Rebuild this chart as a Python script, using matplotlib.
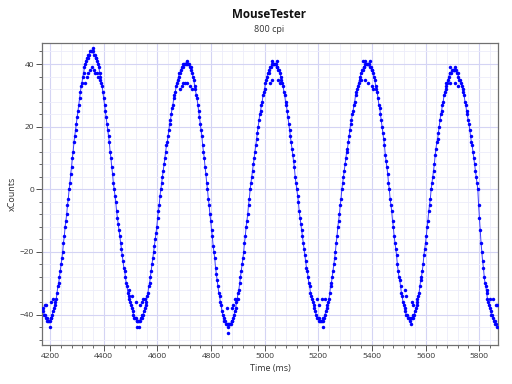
import numpy as np
import matplotlib
matplotlib.use('Agg')
import matplotlib.pyplot as plt
from matplotlib.ticker import MultipleLocator

plt.rcParams['font.family'] = ['Open Sans', 'DejaVu Sans']

# report timing (ms) - one report every 3 ms
t_start = 4172
t_step = 3

# xCounts per report
x_counts = [
    -38, -39, -40, -40, -41, -41, -42, -42,
    -42, -42, -41, -41, -40, -39, -38, -37, -36, -35, -33, -31, -30, -28, -26, -24, -22, -20,
    -17, -15, -12, -10, -8, -5, -3, 0,
    2, 5, 7, 10, 12, 15, 17, 19, 21, 23, 25, 27, 29, 31, 33, 34, 36, 37, 39, 40, 41, 42, 42, 43,
    43, 44, 44, 44,
    44, 44, 43, 43, 42, 42, 41, 40, 39, 37, 36, 34, 33, 31, 29, 27, 25, 23, 21, 19, 17, 15, 12, 10,
    7, 5, 2, 0,
    -2, -4, -7, -9, -11, -13, -15, -17, -19, -21, -23, -25, -26, -28, -30, -31, -33, -34, -35, -36,
    -37, -38, -39, -40, -41, -41, -41, -42, -42, -42,
    -42, -42, -41, -41, -40, -40, -39, -38, -37, -36, -34, -33, -31, -30, -28, -26, -24, -22, -20, -18,
    -16, -14, -12, -9, -7, -5, -2, 0,
    2, 4, 6, 8, 10, 12, 14, 15, 17, 19, 21, 22, 24, 26, 27, 29, 30, 31, 33, 34, 35, 36, 37, 37,
    38, 39, 39, 40, 40, 40, 40, 41,
    40, 40, 40, 39, 39, 38, 37, 36, 35, 33, 32, 30, 29, 27, 25, 23, 21, 19, 17, 14, 12, 10, 7, 5,
    2, 0,
    -3, -5, -8, -10, -13, -15, -18, -20, -22, -25, -27, -29, -31, -33, -34, -36, -37, -39, -40, -41,
    -42, -42, -43, -43, -43, -44,
    -43, -43, -43, -42, -42, -41, -40, -39, -38, -36, -35, -33, -32, -30, -28, -26, -24, -22, -20, -17,
    -15, -12, -10, -8, -5, -3, 0,
    2, 4, 6, 8, 10, 12, 14, 16, 18, 20, 22, 24, 25, 27, 28, 30, 31, 32, 34, 35, 36, 37, 37, 38,
    39, 39, 40, 40, 40, 40,
    40, 40, 39, 39, 38, 38, 37, 36, 35, 34, 33, 31, 30, 28, 27, 25, 23, 21, 19, 17, 15, 13, 11, 9,
    7, 4, 2, 0,
    -2, -4, -7, -9, -11, -13, -15, -17, -19, -21, -23, -25, -26, -28, -30, -31, -33, -34, -35, -36,
    -37, -38, -39, -40, -41, -41, -41, -42, -42, -42,
    -42, -42, -41, -41, -40, -39, -38, -37, -36, -35, -33, -31, -30, -28, -26, -24, -22, -20, -17, -15,
    -12, -10, -8, -5, -3, 0,
    2, 4, 6, 8, 10, 12, 13, 15, 17, 19, 21, 22, 24, 25, 27, 28, 30, 31, 32, 33, 34, 35, 36, 37,
    38, 38, 39, 39, 40, 40, 40, 40,
    40, 40, 39, 39, 38, 38, 37, 36, 35, 33, 32, 31, 29, 27, 26, 24, 22, 20, 18, 16, 14, 11, 9, 7,
    5, 2, 0,
    -3, -5, -7, -10, -12, -15, -17, -19, -21, -24, -26, -28, -29, -31, -33, -34, -36, -37, -38, -39,
    -40, -40, -41, -41, -41, -42,
    -41, -41, -41, -40, -40, -39, -38, -37, -36, -34, -33, -31, -29, -28, -26, -24, -21, -19, -17, -15,
    -12, -10, -7, -5, -3, 0,
    2, 4, 6, 8, 11, 13, 15, 16, 18, 20, 22, 24, 25, 27, 28, 30, 31, 32, 33, 34, 35, 36, 37, 37,
    37, 38, 38, 38,
    38, 38, 38, 37, 37, 36, 35, 35, 34, 33, 32, 31, 30, 28, 27, 25, 24, 22, 21, 19, 17, 15, 14, 12,
    10, 8, 6, 4, 2, 0,
    -5, -9, -13, -17, -20, -23, -25, -28, -30, -31, -33, -35, -36, -37, -38, -39, -40, -40, -41, -42,
    -42, -43, -43, -44,
]

# reports that sit off the main curve (inner arcs at peaks / troughs)
extra_t = [4181, 4186, 4200, 4205, 4211,
           4330, 4337, 4343, 4349, 4355, 4361, 4362, 4368, 4374, 4380, 4386,
           4495, 4504, 4520, 4523, 4532, 4535, 4541, 4547, 4553,
           4685, 4691, 4697, 4703, 4709, 4722, 4728,
           4859, 4865, 4878, 4884, 4890, 4902,
           5020, 5026, 5026, 5045, 5051, 5057,
           5196, 5203, 5213, 5216, 5225,
           5361, 5368, 5374, 5374, 5386, 5393, 5399, 5405,
           5523, 5529, 5546, 5548, 5554, 5567,
           5678, 5691, 5691, 5710, 5710, 5722,
           5830, 5840, 5852, 5862, 5866]
extra_v = [-37, -37, -44, -36, -35,
           34, 36, 37, 38, 39, 45, 38, 37, 37, 36, 35,
           -32, -34, -36, -44, -44, -37, -36, -35, -35,
           32, 33, 34, 34, 34, 33, 32,
           -38, -46, -38, -37, -35, -35,
           34, 35, 41, 41, 35, 34,
           -35, -37, -35, -44, -35,
           35, 41, 35, 41, 34, 41, 33, 32,
           -32, -34, -43, -36, -37, -35,
           34, 34, 39, 34, 39, 33,
           -32, -35, -35, -37, -37]

times = t_start + t_step * np.arange(len(x_counts))

fig = plt.figure(figsize=(5.12, 3.84), dpi=100)
ax = fig.add_axes([0.0826, 0.1016, 0.8904, 0.7855])

ax.plot(times, x_counts, '-', color='#3c3cff', lw=0.7, zorder=3)
ax.plot(times, x_counts, 'o', color='#0000ff', ms=2.5, mew=0, zorder=4)
ax.plot(extra_t, extra_v, 'o', color='#0000ff', ms=2.5, mew=0, zorder=4)

ax.set_xlim(4171, 5871)
ax.set_ylim(-49.7, 46.6)
ax.xaxis.set_major_locator(MultipleLocator(200))
ax.xaxis.set_minor_locator(MultipleLocator(40))
ax.yaxis.set_major_locator(MultipleLocator(20))
ax.yaxis.set_minor_locator(MultipleLocator(4))

ax.grid(which='major', color='#d4d4f4', lw=0.8)
ax.grid(which='minor', color='#ececfa', lw=0.6)
ax.set_axisbelow(True)

for s in ax.spines.values():
    s.set_color('#707070')
    s.set_linewidth(0.9)

ax.tick_params(which='major', length=4, width=0.7, color='#505050',
               labelsize=6, labelcolor='#333333', pad=2)
ax.tick_params(which='minor', length=2, width=0.6, color='#505050')

ax.set_xlabel('Time (ms)', fontsize=6.5, color='#333333', labelpad=3)
ax.set_ylabel('xCounts', fontsize=6.5, color='#333333', labelpad=2)

fig.text(0.525, 0.963, 'MouseTester', ha='center', va='center',
         fontsize=8.4, fontweight='bold', color='#111111')
fig.text(0.525, 0.924, '800 cpi', ha='center', va='center',
         fontsize=6.5, color='#333333')

fig.savefig('out.png', dpi=100)
